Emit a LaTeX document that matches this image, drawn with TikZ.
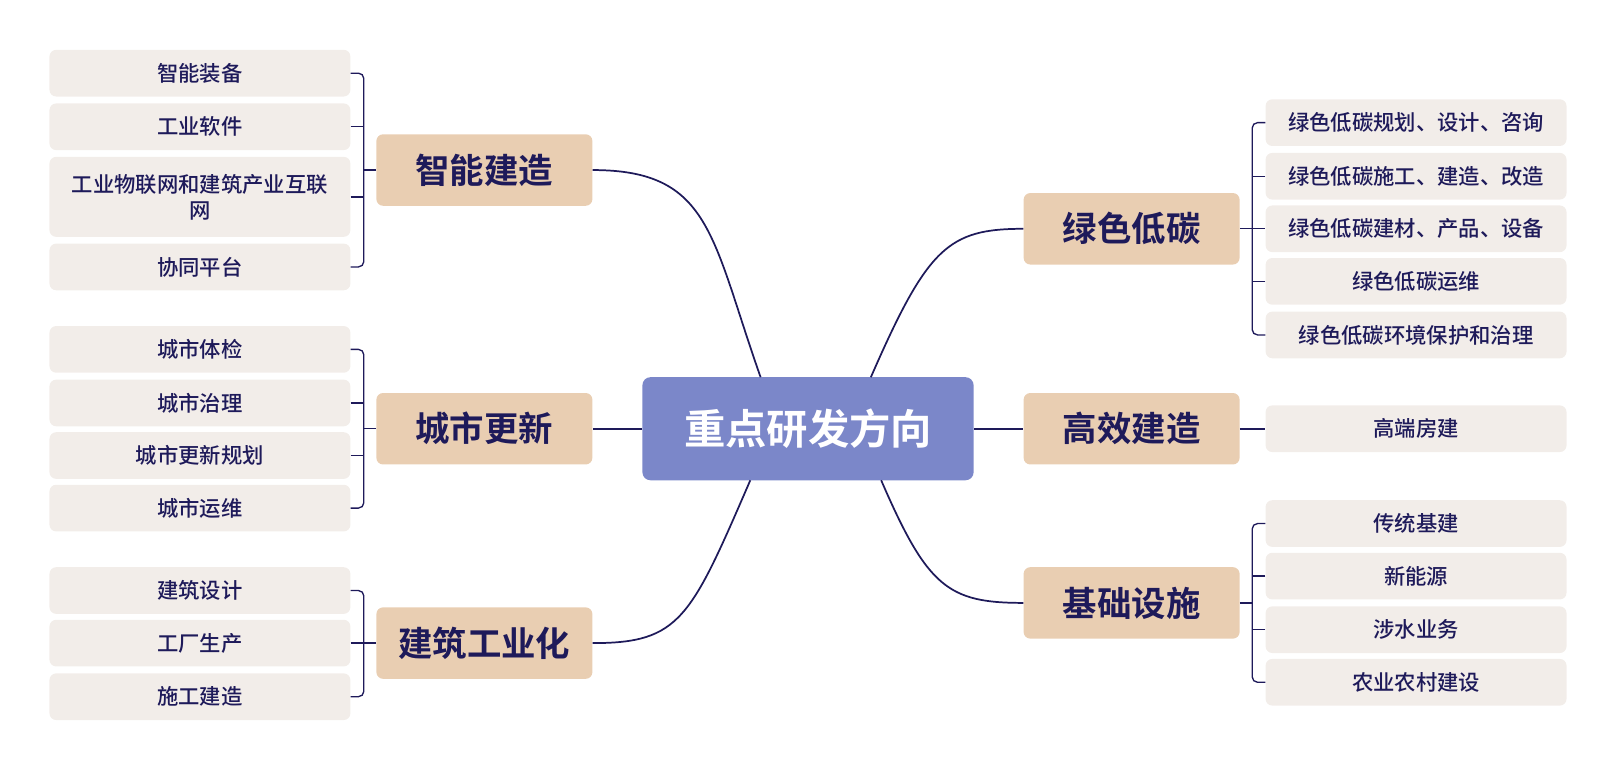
\documentclass[tikz,border=0pt]{standalone}
\usepackage{fontspec}
\setmainfont{Noto Sans CJK SC}[BoldFont={* Bold}]
\newfontfamily\medf{Noto Sans CJK SC Medium}
\definecolor{ink}{HTML}{1E1A5A}
\definecolor{cen}{HTML}{7B87C9}
\definecolor{lv}{HTML}{E9CEB2}
\definecolor{lf}{HTML}{F2EDE9}
\begin{document}
\begin{tikzpicture}[x=0.773pt,y=-0.773pt,
 leaf/.style={fill=lf,rounded corners=5pt,minimum width=225.7pt,minimum height=35pt,text=ink,font=\medf\fontsize{16}{19.5}\selectfont,align=center,inner sep=0pt},
 lvl/.style={fill=lv,rounded corners=5pt,minimum width=162pt,minimum height=53.6pt,text=ink,font=\fontsize{25.8}{29}\selectfont\bfseries,inner sep=0pt},
 conn/.style={draw=ink,line width=1.3pt},
 br/.style={draw=ink,line width=1pt,rounded corners=4pt}]
\path[use as bounding box] (0,0) rectangle (1568,747);
\node[fill=cen,rounded corners=6pt,minimum width=248.4pt,minimum height=77.3pt,text=white,font=\fontsize{31}{35}\selectfont\bfseries,inner sep=0pt] (c) at (784,416) {重点研发方向};
\node[lvl] (a) at (470,165) {智能建造};
\node[lvl] (b) at (470,416) {城市更新};
\node[lvl] (d) at (470,624) {建筑工业化};
\node[lvl] (e) at (1098,222) {绿色低碳};
\node[lvl] (f) at (1098,416) {高效建造};
\node[lvl] (g) at (1098,585) {基础设施};
\node[leaf] (a1) at (194,71) {智能装备};
\node[leaf] (a2) at (194,123) {工业软件};
\node[leaf,minimum height=60pt] (a3) at (194,191) {工业物联网和建筑产业互联\\网};
\node[leaf] (a4) at (194,259) {协同平台};
\node[leaf] (b1) at (194,339) {城市体检};
\node[leaf] (b2) at (194,391) {城市治理};
\node[leaf] (b3) at (194,442) {城市更新规划};
\node[leaf] (b4) at (194,493) {城市运维};
\node[leaf] (d1) at (194,573) {建筑设计};
\node[leaf] (d2) at (194,624) {工厂生产};
\node[leaf] (d3) at (194,676) {施工建造};
\node[leaf] (e1) at (1374,119) {绿色低碳规划、设计、咨询};
\node[leaf] (e2) at (1374,171) {绿色低碳施工、建造、改造};
\node[leaf] (e3) at (1374,222) {绿色低碳建材、产品、设备};
\node[leaf] (e4) at (1374,273) {绿色低碳运维};
\node[leaf] (e5) at (1374,325) {绿色低碳环境保护和治理};
\node[leaf] (f1) at (1374,416) {高端房建};
\node[leaf] (g1) at (1374,508) {传统基建};
\node[leaf] (g2) at (1374,559) {新能源};
\node[leaf] (g3) at (1374,611) {涉水业务};
\node[leaf] (g4) at (1374,662) {农业农村建设};
\coordinate (cA) at (738,366); \coordinate (cE) at (845,366);
\coordinate (cD) at (728,466); \coordinate (cG) at (855,466);
\draw[conn] (cA) .. controls (690,230) and (690,165) .. (a.east);
\draw[conn] (cE) .. controls (900,240) and (920,222) .. (e.west);
\draw[conn] (cD) .. controls (670,600) and (660,624) .. (d.east);
\draw[conn] (cG) .. controls (900,570) and (920,585) .. (g.west);
\draw[conn] (c.west) -- (b.east);
\draw[conn] (c.east) -- (f.west);
\draw[conn] (f.east) -- (f1.west);
\draw[br] (a.west) -- (353,165);
\draw[br] (b.west) -- (353,416);
\draw[br] (d.west) -- (353,624);
\draw[br] (a1.east) -| (353,165) |- (a4.east);
\draw[br] (a2.east) -- (353,123); \draw[br] (a3.east) -- (353,191);
\draw[br] (b1.east) -| (353,416) |- (b4.east);
\draw[br] (b2.east) -- (353,391); \draw[br] (b3.east) -- (353,442);
\draw[br] (d1.east) -| (353,624) |- (d3.east);
\draw[br] (d2.east) -- (353,624);
\draw[br] (e.east) -- (e3.west);
\draw[br] (e1.west) -| (1215,222) |- (e5.west);
\draw[br] (e2.west) -- (1215,171); \draw[br] (e4.west) -- (1215,273);
\draw[br] (g.east) -- (1215,585);
\draw[br] (g1.west) -| (1215,585) |- (g4.west);
\draw[br] (g2.west) -- (1215,559); \draw[br] (g3.west) -- (1215,611);
\end{tikzpicture}
\end{document}
